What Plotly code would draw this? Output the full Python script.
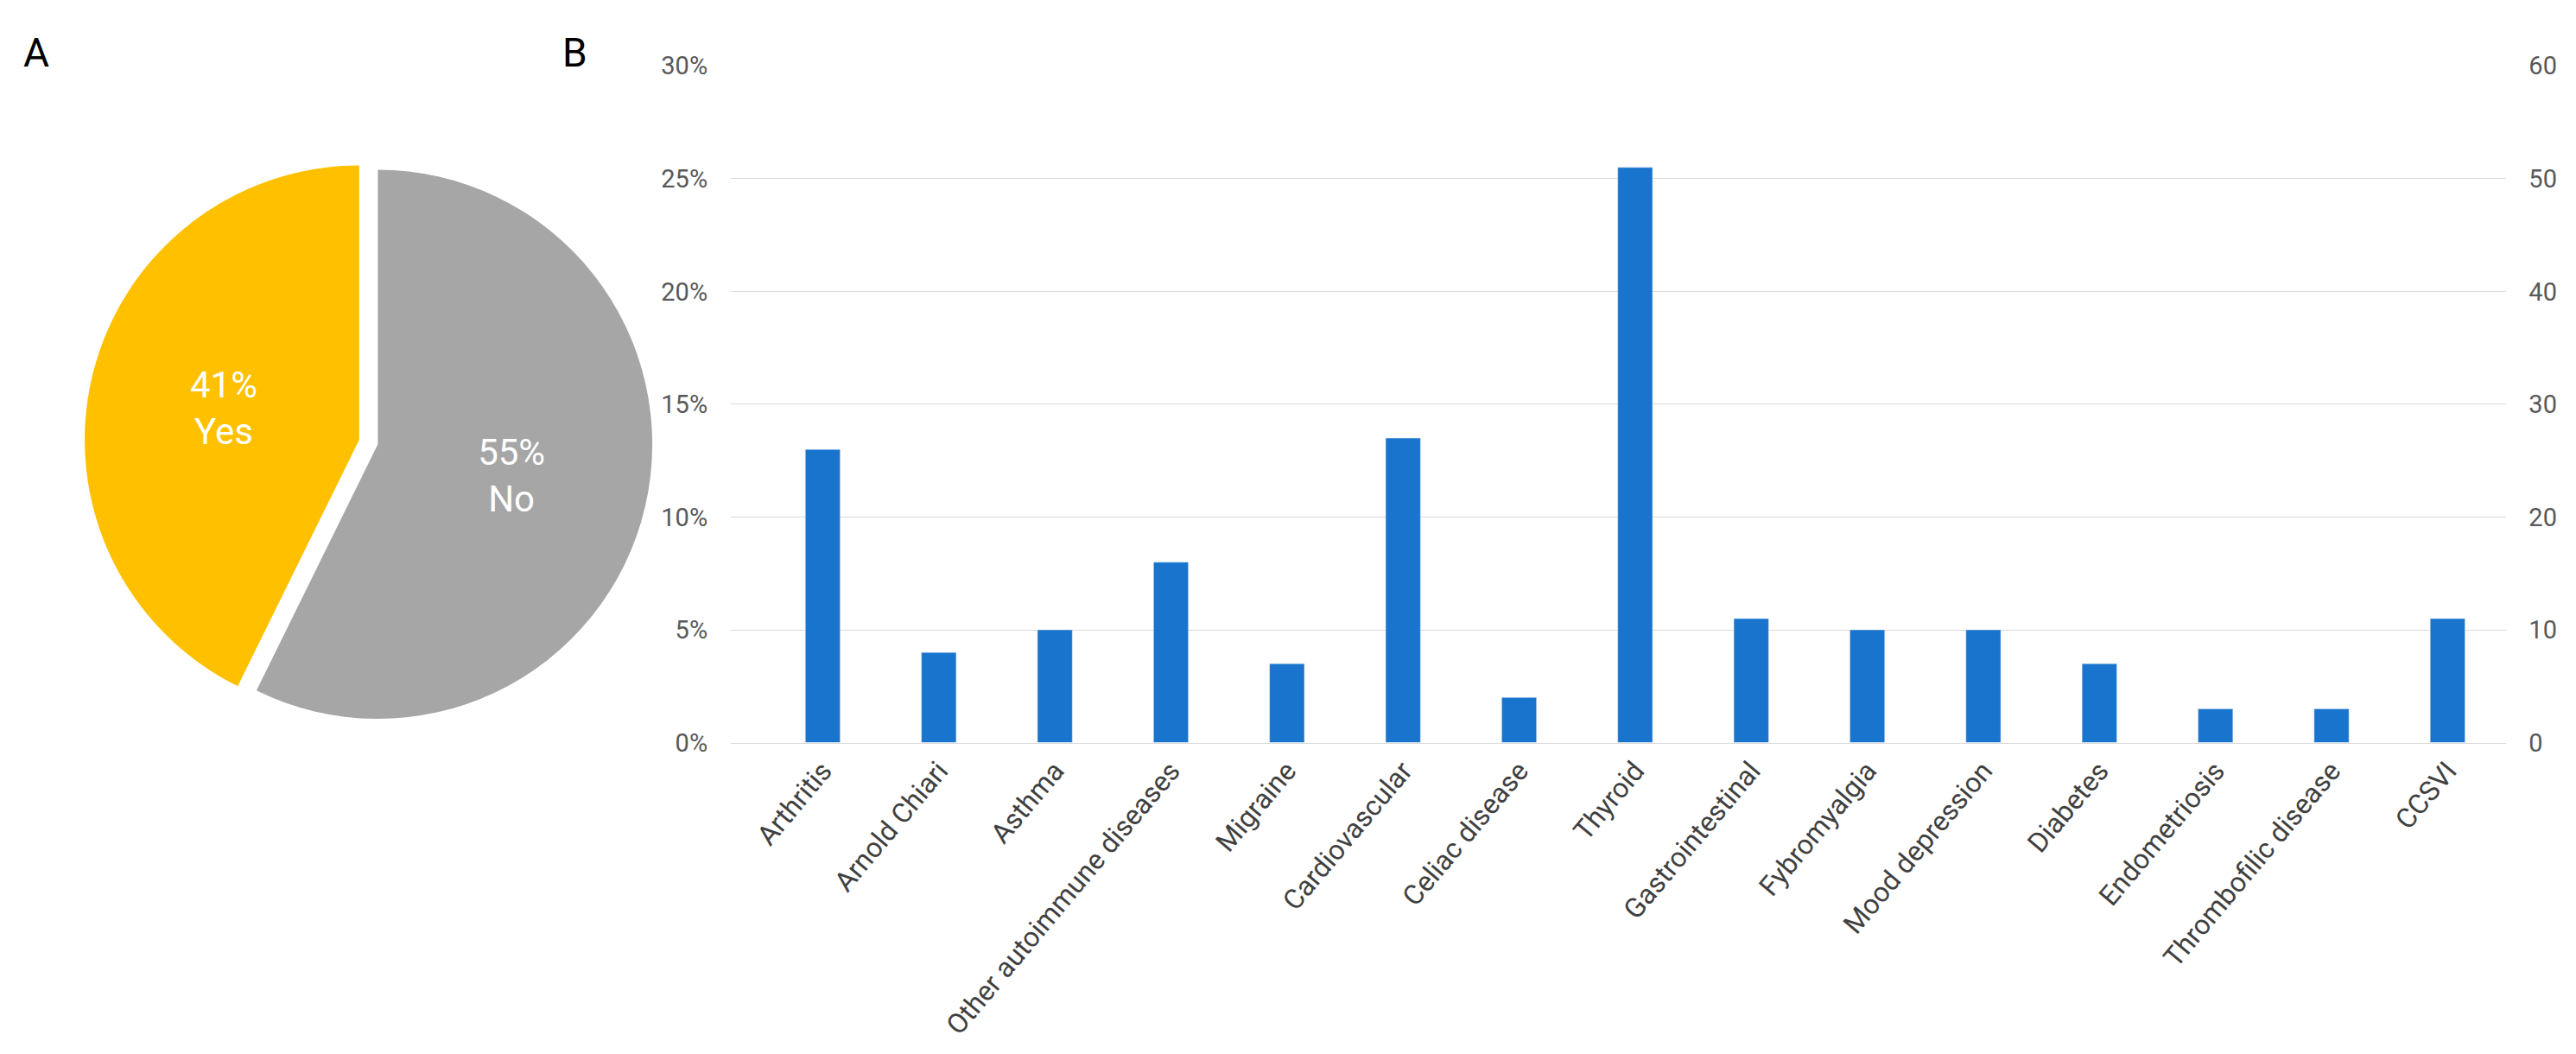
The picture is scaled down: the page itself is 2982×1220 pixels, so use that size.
import plotly.graph_objects as go

pie_labels = ["No", "Yes"]
pie_values = [55, 41]
pie_text = ["55%<br>No", "41%<br>Yes"]

categories = ["Arthritis", "Arnold Chiari", "Asthma", "Other autoimmune diseases", "Migraine",
              "Cardiovascular", "Celiac disease", "Thyroid", "Gastrointestinal", "Fybromyalgia",
              "Mood depression", "Diabetes", "Endometriosis", "Thrombofilic disease", "CCSVI"]
percent = [13, 4, 5, 8, 3.5, 13.5, 2, 25.5, 5.5, 5, 5, 3.5, 1.5, 1.5, 5.5]
left_ticks = [0, 5, 10, 15, 20, 25, 30]
right_ticks = [0, 10, 20, 30, 40, 50, 60]

FONT = "Liberation Sans Narrow, Roboto, sans-serif"

fig = go.Figure()
fig.add_trace(go.Pie(
    labels=pie_labels, values=pie_values, text=pie_text, textinfo="text",
    sort=False, direction="clockwise", rotation=0, pull=[0, 0.07],
    marker=dict(colors=["#a6a6a6", "#ffc000"]),
    textfont=dict(color="white", size=42, family=FONT),
    insidetextorientation="horizontal",
    domain=dict(x=[0.03, 0.258], y=[0.28, 0.89]), showlegend=False, hoverinfo="label+percent"))
fig.add_trace(go.Bar(x=categories, y=percent, marker_color="#1874cd", showlegend=False,
                     xaxis="x", yaxis="y"))
fig.add_trace(go.Scatter(x=[categories[0]], y=[0], yaxis="y2", mode="markers",
                         marker=dict(opacity=0), showlegend=False, hoverinfo="skip"))

tickfont = dict(size=29, color="#595959", family=FONT)
fig.update_layout(
    width=2982, height=1220, paper_bgcolor="white", plot_bgcolor="white",
    margin=dict(l=0, r=0, t=0, b=0), bargap=0.7,
    xaxis=dict(domain=[0.281, 0.970], tickangle=-50, tickfont=dict(size=32, color="#404040", family=FONT),
               showline=True, linecolor="#d9d9d9", ticks="", automargin=False),
    yaxis=dict(range=[0, 30], tickvals=left_ticks, ticktext=[f"{v}%" for v in left_ticks],
               domain=[0.302, 0.944], gridcolor="#d9d9d9", tickfont=tickfont, zeroline=False,
               ticklen=20, tickcolor="white", ticks="outside", automargin=False),
    yaxis2=dict(range=[0, 60], tickvals=right_ticks, overlaying="y", side="right",
                showgrid=False, tickfont=tickfont, zeroline=False, anchor="x",
                ticks="outside", ticklen=20, tickcolor="white", automargin=False),
    annotations=[
        dict(text="A", x=34 / 2982, y=1 - 53 / 1220, xref="paper", yref="paper", showarrow=False,
             font=dict(size=46, color="black", family=FONT), xanchor="center", yanchor="middle"),
        dict(text="B", x=657 / 2982, y=1 - 53 / 1220, xref="paper", yref="paper", showarrow=False,
             font=dict(size=46, color="black", family=FONT), xanchor="center", yanchor="middle"),
    ],
)
fig.write_html("out.html")
